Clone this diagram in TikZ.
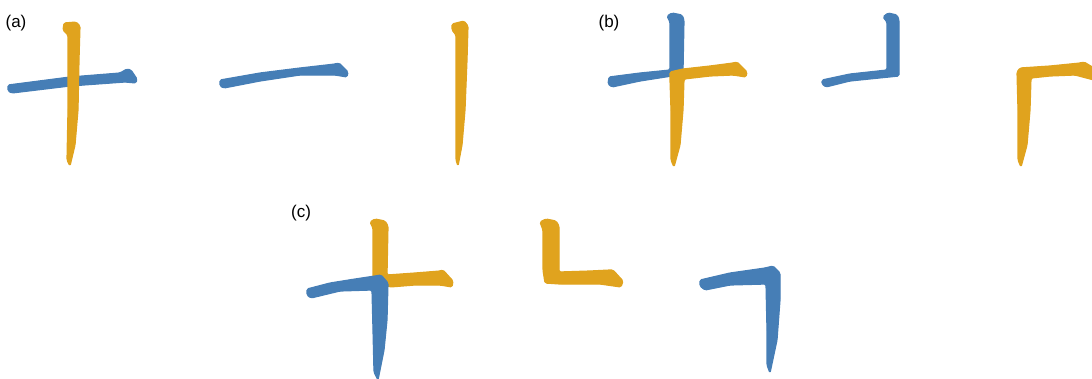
\documentclass[tikz,border=0pt]{standalone}
\usepackage{fontspec}
\setmainfont{Liberation Sans}
\definecolor{strokeblue}{RGB}{70,126,182}
\definecolor{strokeorange}{RGB}{224,163,30}
\tikzset{
  bluestroke/.style={fill=strokeblue, draw=strokeblue, line width=1.2pt, rounded corners=1.5pt, line join=round},
  orangestroke/.style={fill=strokeorange, draw=strokeorange, line width=1.2pt, rounded corners=1.5pt, line join=round},
  panellabel/.style={font=\fontsize{17}{20}\selectfont, inner sep=0pt}
}
\begin{document}
\begin{tikzpicture}[x=1pt,y=-1pt]
\useasboundingbox (0,0) rectangle (1092,378);
\clip (0,0) rectangle (1092,378);
% labels
\node[panellabel] (la) at (16,23) {(a)};
\node[panellabel] (lb) at (609,23) {(b)};
\node[panellabel] (lc) at (301,213) {(c)};
% (a) full character
\fill[bluestroke] (8,85) -- (70,77) -- (120,73) -- (127,69) -- (131,70) -- (137,79) -- (136,83) -- (125,82) -- (70,86) -- (12,93) -- (8,91) -- cycle;
\fill[orangestroke] (64,23) -- (76,22) -- (80,26) -- (79,60) -- (78,110) -- (75,145) -- (70,166) -- (67,160) -- (68,110) -- (68,35) -- (63,30) -- cycle;
% (a) horizontal
\fill[bluestroke] (220,80) -- (260,73) -- (300,68) -- (335,64) -- (339,63) -- (348,72) -- (347,77) -- (335,75) -- (300,75) -- (260,81) -- (224,88) -- (220,86) -- cycle;
% (a) vertical
\fill[orangestroke] (452,24) -- (464,21) -- (468,26) -- (467,60) -- (465,110) -- (462,145) -- (458,166) -- (456,160) -- (456,110) -- (456,35) -- (452,30) -- cycle;
% (b) full character
\fill[bluestroke] (609,77) -- (640,73) -- (670,70) -- (670,22) -- (667,16) -- (672,13) -- (682,15) -- (684,20) -- (683,72) -- (672,76) -- (640,81) -- (612,87) -- (608,84) -- cycle;
\fill[orangestroke] (670,72) -- (683,69) -- (710,66) -- (733,63) -- (737,62) -- (747,72) -- (746,77) -- (733,75) -- (710,76) -- (684,79) -- (683,110) -- (680,145) -- (674,167) -- (671,160) -- (671,110) -- (670,80) -- cycle;
% (b) blue part
\fill[bluestroke] (822,80) -- (850,74) -- (887,70) -- (887,22) -- (883,17) -- (888,13) -- (897,15) -- (899,20) -- (899,76) -- (850,81) -- (826,87) -- (822,84) -- cycle;
% (b) orange part
\fill[orangestroke] (1017,72) -- (1020,68) -- (1050,66) -- (1080,63) -- (1084,62) -- (1094,68) -- (1094,80) -- (1075,75) -- (1050,76) -- (1031,78) -- (1030,110) -- (1027,145) -- (1021,167) -- (1018,160) -- (1018,110) -- cycle;
% (c) full character
\fill[orangestroke] (373,228) -- (370,222) -- (375,219) -- (385,221) -- (388,226) -- (387,275) -- (415,273) -- (440,271) -- (443,270) -- (453,281) -- (452,287) -- (440,285) -- (415,285) -- (390,287) -- (373,280) -- cycle;
\fill[bluestroke] (307,289) -- (330,283) -- (355,279) -- (375,276) -- (381,275) -- (388,283) -- (387,320) -- (384,350) -- (378,380) -- (374,372) -- (373,330) -- (372,290) -- (340,291) -- (311,298) -- (307,295) -- cycle;
% (c) orange part
\fill[orangestroke] (540,222) -- (546,219) -- (556,221) -- (559,226) -- (559,272) -- (590,271) -- (610,270) -- (613,270) -- (623,281) -- (621,287) -- (600,284) -- (560,284) -- (545,283) -- (543,270) -- (543,230) -- cycle;
% (c) blue part
\fill[bluestroke] (700,280) -- (730,273) -- (765,268) -- (773,266) -- (780,273) -- (780,300) -- (777,340) -- (770,373) -- (767,365) -- (767,330) -- (766,284) -- (730,285) -- (705,290) -- (700,286) -- cycle;
\end{tikzpicture}
\end{document}
